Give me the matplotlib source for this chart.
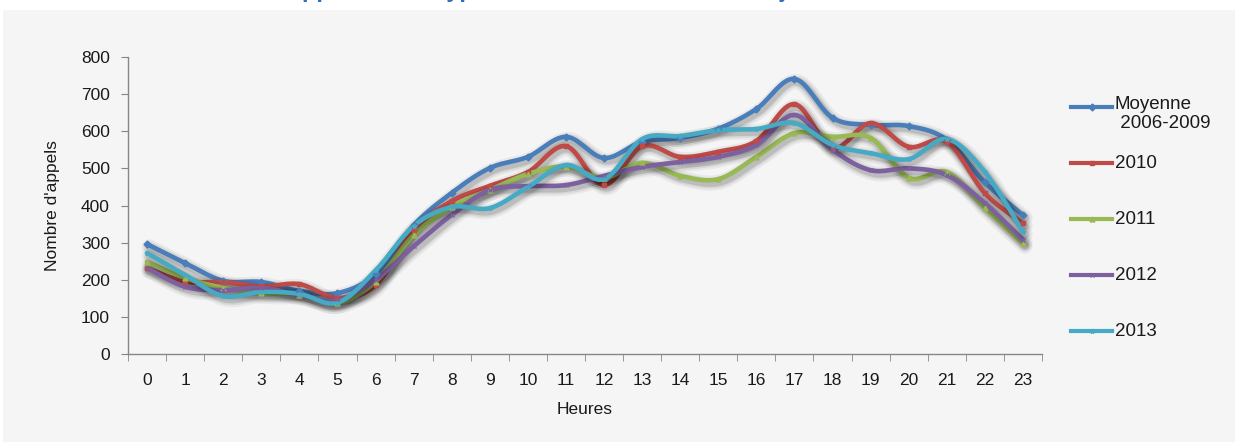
import numpy as np
import matplotlib
matplotlib.use("Agg")
import matplotlib.pyplot as plt
import matplotlib.patheffects as pe
from matplotlib.patches import Rectangle
from matplotlib.lines import Line2D

plt.rcParams['font.family'] = ['Liberation Sans', 'DejaVu Sans']

# nombre moyen d'appels par heure
heures = list(range(24))
moyenne = [296, 245, 197, 194, 170, 164, 215, 347, 434, 501, 531, 585,
           528, 572, 582, 607, 660, 741, 636, 617, 614, 577, 462, 374]
a2010 = [232, 195, 194, 182, 188, 151, 185, 334, 412, 453, 490, 560,
         455, 560, 531, 545, 574, 673, 555, 622, 558, 572, 433, 352]
a2011 = [248, 205, 178, 163, 160, 137, 195, 320, 396, 442, 485, 505,
         474, 515, 480, 471, 531, 595, 585, 582, 474, 490, 393, 298]
a2012 = [232, 181, 172, 178, 159, 145, 200, 290, 375, 442, 452, 455,
         480, 504, 517, 531, 563, 644, 550, 495, 500, 482, 406, 307]
a2013 = [272, 213, 156, 167, 162, 138, 225, 345, 396, 393, 450, 509,
         471, 579, 587, 603, 606, 622, 563, 541, 525, 579, 490, 329]

labels = ['Moyenne\n 2006-2009', '2010', '2011', '2012', '2013']
series = [moyenne, a2010, a2011, a2012, a2013]
colors = ['#4a7ebb', '#be4b48', '#98b954', '#7d60a0', '#46aac5']
markers = ['D', 's', '^', 'x', '*']


def smooth(x, y, n=16):
    # courbe lissée type Catmull-Rom entre les points
    x = np.asarray(x, float)
    y = np.asarray(y, float)
    px = np.concatenate([[x[0]], x, [x[-1]]])
    py = np.concatenate([[y[0]], y, [y[-1]]])
    xs, ys = [], []
    t = np.linspace(0, 1, n, endpoint=False)
    for i in range(1, len(px) - 2):
        for arr, out in ((px, xs), (py, ys)):
            p0, p1, p2, p3 = arr[i - 1], arr[i], arr[i + 1], arr[i + 2]
            out.extend(0.5 * (2 * p1 + (-p0 + p2) * t
                              + (2 * p0 - 5 * p1 + 4 * p2 - p3) * t ** 2
                              + (-p0 + 3 * p1 - 3 * p2 + p3) * t ** 3))
    xs.append(x[-1])
    ys.append(y[-1])
    return np.array(xs), np.array(ys)


W, H = 1235, 442
fig = plt.figure(figsize=(W / 100, H / 100), dpi=100, facecolor='white')
fig.patches.append(Rectangle((3 / W, 0), 1, 1 - 10 / H, transform=fig.transFigure,
                             facecolor='#f5f5f5', edgecolor='none', zorder=-10))

fig.text(285 / W, 1 + 3 / H, "Appels selon type de commune et heure du jour",
         color='#2f6eba', fontsize=17, fontweight='bold', va='baseline', ha='left')

ax = fig.add_axes([128 / W, 88 / H, 914 / W, 297 / H])
ax.set_facecolor('none')

shadow = [pe.SimpleLineShadow(offset=(1.5, -2), shadow_color='#000000', alpha=0.05, linewidth=11),
          pe.SimpleLineShadow(offset=(1.5, -2), shadow_color='#000000', alpha=0.07, linewidth=8),
          pe.SimpleLineShadow(offset=(1.5, -2), shadow_color='#000000', alpha=0.12, linewidth=5.5),
          pe.Normal()]

for vals, c, m in zip(series, colors, markers):
    sx, sy = smooth(heures, vals)
    ax.plot(sx, sy, color=c, lw=3.3, solid_capstyle='round', path_effects=shadow, zorder=3)
    ax.plot(heures, vals, ls='none', marker=m, color=c, ms=3.5, mew=1, zorder=4)

ax.set_xlim(-0.5, 23.5)
ax.set_ylim(0, 800)
ax.set_yticks(range(0, 801, 100))
ax.set_xticks(heures)
ax.set_xticks(np.arange(-0.5, 24, 1), minor=True)
ax.tick_params(axis='x', which='major', length=0, pad=14, labelsize=12.5, colors='#1a1a1a')
ax.tick_params(axis='x', which='minor', length=5, color='#868686', direction='out')
ax.tick_params(axis='y', length=5, color='#868686', direction='out', pad=8,
               labelsize=12.5, labelcolor='#1a1a1a')
for s in ['top', 'right']:
    ax.spines[s].set_visible(False)
for s in ['left', 'bottom']:
    ax.spines[s].set_color('#868686')
    ax.spines[s].set_linewidth(1)

ax.set_xlabel('Heures', fontsize=12.5, labelpad=10, color='#1a1a1a')
ax.set_ylabel("Nombre d'appels", fontsize=12.5, labelpad=15, color='#1a1a1a')

# légende
leg_y = [107, 163, 219, 275, 331]
for lab, c, m, yy in zip(labels, colors, markers, leg_y):
    yf = 1 - yy / H
    fig.add_artist(Line2D([1071 / W, 1112 / W], [yf, yf], transform=fig.transFigure,
                          color=c, lw=3))
    fig.add_artist(Line2D([1091.5 / W], [yf], transform=fig.transFigure,
                          color=c, marker=m, ms=3.5, mew=1))
    if '\n' in lab:
        fig.text(1115 / W, 1 - (yy - 11) / H, lab, fontsize=13.5, va='top', ha='left',
                 color='#1a1a1a', linespacing=1.15)
    else:
        fig.text(1115 / W, yf, lab, fontsize=13.5, va='center', ha='left', color='#1a1a1a')

fig.savefig('out.png', dpi=100, facecolor='white')
